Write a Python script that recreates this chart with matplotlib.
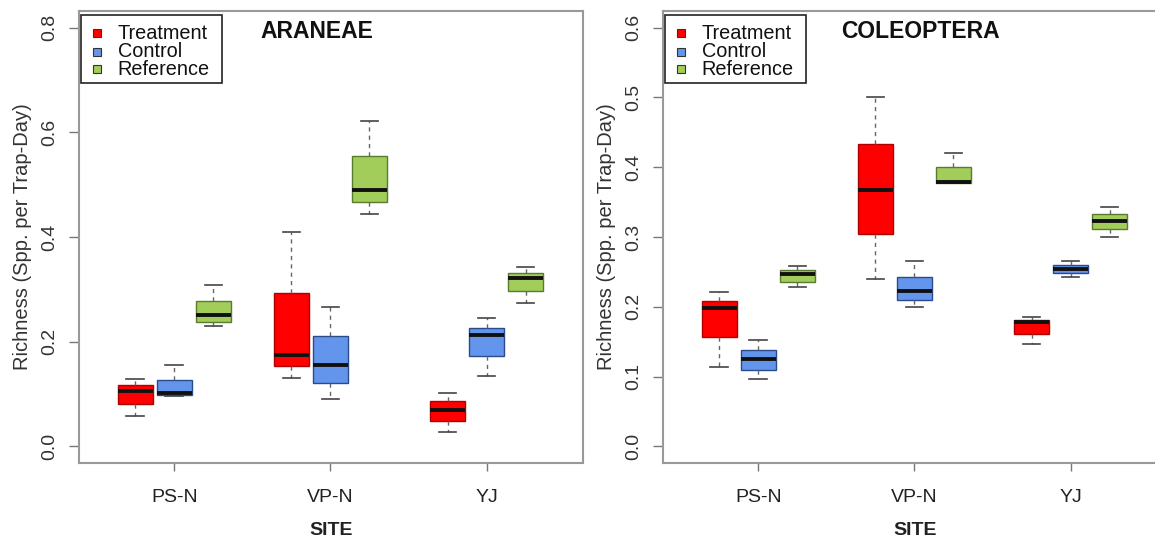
import matplotlib
matplotlib.use('Agg')
import matplotlib.pyplot as plt
from matplotlib.patches import Rectangle

plt.rcParams['font.family'] = ['Liberation Sans', 'DejaVu Sans']

sites = ['PS-N', 'VP-N', 'YJ']
groups = ['Treatment', 'Control', 'Reference']
fills = ['#ff0000', '#6495ed', '#a2cd5a']
edges = ['#b00000', '#2a4a8a', '#5a7a30']

# five-number summaries per site: [whisker low, q1, median, q3, whisker high]
ara_treatment = [[0.058, 0.080, 0.105, 0.117, 0.129],
                 [0.131, 0.153, 0.174, 0.293, 0.410],
                 [0.028, 0.048, 0.070, 0.086, 0.101]]
ara_control = [[0.096, 0.098, 0.101, 0.126, 0.155],
               [0.090, 0.121, 0.156, 0.210, 0.266],
               [0.134, 0.172, 0.212, 0.227, 0.245]]
ara_reference = [[0.229, 0.238, 0.250, 0.278, 0.309],
                 [0.444, 0.467, 0.489, 0.554, 0.621],
                 [0.273, 0.297, 0.322, 0.331, 0.342]]

col_treatment = [[0.114, 0.156, 0.198, 0.208, 0.221],
                 [0.240, 0.304, 0.368, 0.433, 0.500],
                 [0.147, 0.161, 0.178, 0.181, 0.186]]
col_control = [[0.097, 0.110, 0.125, 0.138, 0.153],
               [0.199, 0.210, 0.222, 0.243, 0.265],
               [0.243, 0.248, 0.254, 0.260, 0.265]]
col_reference = [[0.228, 0.236, 0.247, 0.252, 0.258],
                 [0.377, 0.378, 0.379, 0.400, 0.421],
                 [0.300, 0.311, 0.323, 0.333, 0.343]]

ara_ticks = [0.0, 0.2, 0.4, 0.6, 0.8]
col_ticks = [0.0, 0.1, 0.2, 0.3, 0.4, 0.5, 0.6]

W, H = 1155, 539
fig = plt.figure(figsize=(W / 100, H / 100), dpi=100)

ax_w = 504 / W
ax_h = 452 / H
ax_b = 1 - 463 / H
ax1 = fig.add_axes([79 / W, ax_b, ax_w, ax_h])
ax2 = fig.add_axes([663 / W, ax_b, ax_w, ax_h])


def draw_panel(ax, series, yticks, title, title_x):
    stats, pos, fc, ec = [], [], [], []
    for g, data in enumerate(series):
        for s, v in enumerate(data):
            stats.append({'whislo': v[0], 'q1': v[1], 'med': v[2],
                          'q3': v[3], 'whishi': v[4], 'fliers': []})
            pos.append(1 + 4 * s + g)
            fc.append(fills[g])
            ec.append(edges[g])
    bp = ax.bxp(stats, positions=pos, widths=0.9, capwidths=0.45,
                patch_artist=True, showfliers=False,
                whiskerprops=dict(color='#666666', lw=1.0, ls=(0, (3, 3))),
                capprops=dict(color='#444444', lw=1.2),
                medianprops=dict(color='#111111', lw=2.8, solid_capstyle='butt'))
    for box, f, e in zip(bp['boxes'], fc, ec):
        box.set_facecolor(f)
        box.set_edgecolor(e)
        box.set_linewidth(1.0)

    top = yticks[-1]
    ax.set_ylim(-0.04 * top, 1.04 * top)
    ax.set_xlim(-0.44, 12.47)
    ax.set_xticks([2, 6, 10])
    ax.set_xticklabels(sites, fontsize=14, color='#222222')
    ax.set_yticks(yticks)
    ax.set_yticklabels(['%.1f' % t for t in yticks], fontsize=14,
                       color='#333333', rotation=90, va='center')
    ax.tick_params(axis='x', length=6, width=1, color='#777777', pad=13)
    ax.tick_params(axis='y', length=7, width=1, color='#777777', pad=8)
    for sp in ax.spines.values():
        sp.set_color('#999999')
        sp.set_linewidth(1.5)

    ax.set_ylabel('Richness (Spp. per Trap-Day)', fontsize=14.5, color='#333333')
    ax.yaxis.set_label_coords(-0.094, 0.5)
    ax.set_xlabel('SITE', fontsize=14, fontweight='bold', color='#222222')
    ax.xaxis.set_label_coords(0.5, -0.13)

    ax.text(title_x, 0.954, title, transform=ax.transAxes, fontsize=16.5,
            fontweight='bold', ha='center', va='center', color='#111111')

    # legend drawn by hand to match the tight R layout
    ax.add_patch(Rectangle((0.004, 0.841), 0.28, 0.150, transform=ax.transAxes,
                           facecolor='white', edgecolor='#222222', lw=1.2,
                           zorder=5))
    rows = [0.951, 0.910, 0.871]
    for g, y in enumerate(rows):
        ax.add_patch(Rectangle((0.0357 - 0.008, y - 0.009), 0.016, 0.018,
                               transform=ax.transAxes, facecolor=fills[g],
                               edgecolor='#333333', lw=0.8, zorder=6))
        ax.text(0.077, y, groups[g], transform=ax.transAxes, fontsize=14.3,
                ha='left', va='center', color='#111111', zorder=6)


draw_panel(ax1, [ara_treatment, ara_control, ara_reference], ara_ticks,
           'ARANEAE', 0.472)
draw_panel(ax2, [col_treatment, col_control, col_reference], col_ticks,
           'COLEOPTERA', 0.51)

fig.savefig('out.png', dpi=100)
